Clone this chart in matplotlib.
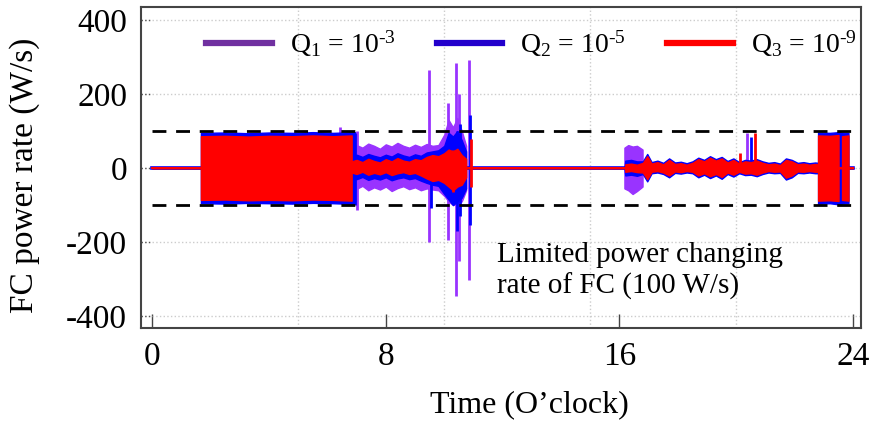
import matplotlib
matplotlib.use("Agg")
import matplotlib.pyplot as plt
from matplotlib.lines import Line2D

plt.rcParams['font.family'] = ['Liberation Serif', 'DejaVu Serif']
plt.rcParams['mathtext.fontset'] = 'custom'
plt.rcParams['mathtext.rm'] = 'Liberation Serif'
plt.rcParams['mathtext.it'] = 'Liberation Serif:italic'
plt.rcParams['axes.unicode_minus'] = False

# ---- envelope of the FC power rate for each weighting Q (W/s) ----
q1_t = [0, 6.94, 6.94, 7.0, 7.2, 7.4, 7.6, 7.8, 8.0, 8.2, 8.4, 8.6, 8.8, 9.0, 9.2,
        9.4, 9.6, 9.8, 10.0, 10.15, 10.3, 10.45, 10.6, 10.75, 10.75,
        16.17, 16.17, 16.3, 16.45, 16.6, 16.79, 16.79, 24]
q1_hi = [0, 0, 58, 62, 55, 66, 60, 52, 64, 58, 68, 60, 55, 63, 57,
         65, 60, 62, 90, 130, 110, 135, 100, 60, 0,
         0, 55, 62, 58, 60, 50, 0, 0]
q1_lo = [0, 0, -50, -56, -48, -60, -52, -58, -50, -62, -54, -49, -57, -52, -60,
         -55, -58, -60, -75, -90, -100, -95, -90, -60, 0,
         0, -55, -60, -70, -62, -50, 0, 0]

q2_t = [0, 1.67, 1.67, 2.5, 3.3, 4.0, 4.8, 5.5, 6.2, 6.94, 6.94, 7.0, 7.2, 7.4,
        7.6, 7.8, 8.0, 8.2, 8.4, 8.6, 8.8, 9.0, 9.2, 9.4, 9.6, 9.8, 10.0, 10.15,
        10.3, 10.45, 10.6, 10.75, 10.75,
        16.17, 16.2, 16.4, 16.6, 16.8, 16.95, 17.1, 17.3, 17.5, 17.7, 17.9, 18.1,
        18.3, 18.5, 18.7, 18.9, 19.1, 19.3, 19.5, 19.7, 19.9, 20.1, 20.3, 20.5,
        20.7, 20.9, 21.1, 21.3, 21.5, 21.7, 21.9, 22.1, 22.3, 22.5, 22.7, 22.8,
        22.8, 23.2, 23.5, 23.62, 23.84, 23.84, 24]
q2_hi = [0, 0, 95, 96, 94, 96, 95, 97, 95, 97, 32, 36, 30, 38,
         33, 29, 36, 31, 40, 34, 30, 37, 33, 42, 45, 48, 60, 95,
         85, 100, 75, 45, 0,
         0, 20, 22, 18, 18, 38, 16, 20, 14, 26, 15, 17,
         13, 18, 28, 22, 32, 24, 30, 19, 26, 16, 22, 20,
         24, 18, 14, 16, 12, 26, 22, 14, 16, 13, 15, 14,
         96, 95, 97, 96, 95, 0, 0]
q2_lo = [0, 0, -95, -96, -94, -95, -96, -94, -95, -97, -26, -30, -24, -32,
         -27, -31, -25, -33, -28, -25, -30, -27, -34, -40, -45, -48, -70, -85,
         -100, -90, -80, -55, 0,
         0, -20, -18, -21, -16, -36, -14, -12, -16, -25, -13, -15,
         -12, -14, -25, -18, -27, -20, -29, -16, -23, -14, -19, -18,
         -22, -16, -12, -14, -13, -31, -25, -13, -14, -12, -14, -14,
         -96, -95, -98, -96, -95, 0, 0]

q3_t = [0, 1.67, 1.67, 2.5, 3.3, 4.0, 4.8, 5.5, 6.2, 6.83, 6.83, 7.0, 7.2, 7.4,
        7.6, 7.8, 8.0, 8.2, 8.4, 8.6, 8.8, 9.0, 9.2, 9.4, 9.6, 9.8, 10.0, 10.15,
        10.3, 10.45, 10.6, 10.75, 10.75,
        16.2, 16.2, 16.4, 16.6, 16.8, 16.95, 17.1, 17.3, 17.5, 17.7, 17.9, 18.1,
        18.3, 18.5, 18.7, 18.9, 19.1, 19.3, 19.5, 19.7, 19.9, 20.1, 20.3, 20.5,
        20.7, 20.9, 21.1, 21.3, 21.5, 21.7, 21.9, 22.1, 22.3, 22.5, 22.7, 22.8,
        22.8, 23.2, 23.5, 23.5, 23.62, 23.62, 23.84, 23.84, 24]
q3_hi = [0, 0, 86, 87, 85, 87, 86, 88, 86, 88, 18, 22, 16, 25,
         19, 15, 24, 18, 27, 20, 17, 24, 21, 30, 35, 32, 40, 50,
         45, 52, 35, 25, 0,
         0, 10, 12, 9, 14, 32, 12, 16, 10, 22, 11, 13,
         9, 14, 24, 18, 28, 20, 26, 15, 22, 12, 18, 16,
         20, 14, 10, 12, 8, 22, 18, 10, 12, 9, 11, 10,
         88, 87, 89, 0, 0, 86, 88, 0, 0]
q3_lo = [0, 0, -86, -85, -87, -86, -87, -85, -86, -88, -12, -16, -10, -18,
         -13, -17, -11, -19, -14, -11, -16, -13, -20, -28, -35, -32, -40, -50,
         -60, -50, -45, -25, 0,
         0, -10, -8, -11, -12, -30, -10, -8, -12, -20, -9, -11,
         -8, -10, -20, -14, -22, -16, -24, -12, -18, -10, -15, -14,
         -18, -12, -8, -10, -9, -26, -20, -9, -10, -8, -10, -10,
         -88, -87, -89, 0, 0, -86, -88, 0, 0]

# isolated spikes: time (h), lower and upper value (W/s)
q1_spike_t = [6.43, 7.0, 9.48, 10.12, 10.41, 10.5, 10.85, 20.38]
q1_spike_lo = [-10, -113, -200, -195, -345, -250, -303, 0]
q1_spike_hi = [111, 100, 265, 175, 284, 200, 292, 95]
q2_spike_t = [6.94, 9.55, 10.45, 10.55, 10.87, 20.51]
q2_spike_lo = [-100, -108, -170, -130, -154, 0]
q2_spike_hi = [95, 30, 100, 120, 143, 85]
q3_spike_t = [10.3, 10.9, 20.13, 20.65]
q3_spike_lo = [-65, -50, -10, 0]
q3_spike_hi = [50, 78, 40, 95]

limit = 100
x_ticks = [0, 8, 16, 24]
x_grid = [0, 5, 10, 15, 20]
y_ticks = [-400, -200, 0, 200, 400]
labels = [r'Q$_1$ = 10$^{\text{-3}}$', r'Q$_2$ = 10$^{\text{-5}}$',
          r'Q$_3$ = 10$^{\text{-9}}$']

plot_colors = ['#9933FF', '#0000FF', '#FF0000']
legend_colors = ['#7030A0', '#2200CC', '#FF0000']

fig = plt.figure(figsize=(8.69, 4.21), dpi=100)
ax = fig.add_axes([0.1623, 0.2209, 0.8285, 0.7625])

series = [
    (q1_t, q1_lo, q1_hi, q1_spike_t, q1_spike_lo, q1_spike_hi),
    (q2_t, q2_lo, q2_hi, q2_spike_t, q2_spike_lo, q2_spike_hi),
    (q3_t, q3_lo, q3_hi, q3_spike_t, q3_spike_lo, q3_spike_hi),
]
zero_lw = [1.5, 2.6, 1.5]
for i, (t, lo, hi, st, slo, shi) in enumerate(series):
    c = plot_colors[i]
    z = 3 + i
    ax.plot([0, 24], [0, 0], color=c, lw=zero_lw[i], zorder=z)
    ax.fill_between(t, lo, hi, color=c, lw=1.0, edgecolor=c, zorder=z)
    ax.vlines(st, slo, shi, color=c, lw=2.0, zorder=z)

# power-rate limits
for v in (limit, -limit):
    ax.plot([0, 24], [v, v], color='black', lw=2.0, dashes=(5, 3.5), zorder=7)

ax.set_xlim(-0.38, 24.27)
ax.set_ylim(-432, 435)
ax.set_xticks(x_ticks)
ax.set_xticks(x_grid, minor=True)
ax.set_yticks(y_ticks)
ax.grid(True, which='minor', axis='x', color='#CCCCCC', ls=':', lw=1.0, zorder=1)
ax.grid(True, which='major', axis='y', color='#CCCCCC', ls=':', lw=1.0, zorder=1)
for v in y_ticks:
    ax.plot([-0.38, 0], [v, v], color='#555555', ls=':', lw=1.0, zorder=2)

ax.tick_params(axis='x', which='major', direction='in', length=10, width=1,
               color='#444444', labelsize=24, pad=10)
ax.tick_params(axis='x', which='minor', length=0)
ax.tick_params(axis='y', length=0, labelsize=24, pad=10)
for s in ax.spines.values():
    s.set_color('#444444')
    s.set_linewidth(1.5)

ax.set_xlabel('Time (O\u2019clock)', fontsize=23)
ax.xaxis.set_label_coords(0.54, -0.195)
ax.set_ylabel('FC power rate (W/s)', fontsize=24)
ax.yaxis.set_label_coords(-0.14, 0.475)

handles = [Line2D([], [], color=legend_colors[i], lw=4.5) for i in range(3)]
ax.legend(handles, labels, ncol=3, loc='center', bbox_to_anchor=(0.542, 0.885),
          frameon=False, fontsize=20, handlelength=2.35, handletextpad=0.65,
          columnspacing=1.5)

ax.text(11.8, -200, 'Limited power changing\nrate of FC (100 W/s)', fontsize=21,
        va='top', ha='left', zorder=8)

fig.savefig('out.png', dpi=100)
